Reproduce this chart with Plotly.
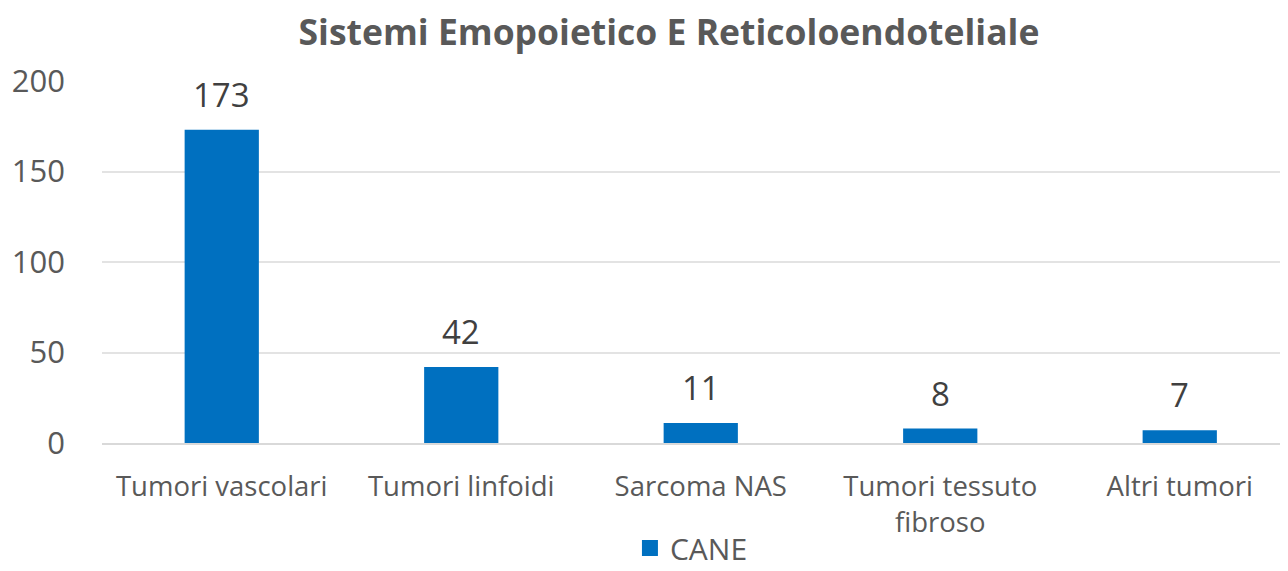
import plotly.graph_objects as go

categories = ["Tumori vascolari", "Tumori linfoidi", "Sarcoma NAS",
              "Tumori tessuto<br>fibroso", "Altri tumori"]
cane = [173, 42, 11, 8, 7]
y_ticks = [0, 50, 100, 150, 200]

font_family = "Open Sans, Noto Sans, sans-serif"
bar_color = "#0070C0"

fig = go.Figure()

fig.add_trace(go.Bar(
    x=categories, y=cane,
    name="CANE",
    marker=dict(color=bar_color, line=dict(width=0)),
    width=0.31,
    showlegend=False,
))

# legend entry only, with a bigger square swatch
fig.add_trace(go.Scatter(
    x=[None], y=[None],
    mode="markers", name="CANE",
    marker=dict(symbol="square", size=16, color=bar_color),
))

# value labels above bars
for cat, val in zip(categories, cane):
    fig.add_annotation(
        x=cat, y=val, text=str(val),
        showarrow=False, yanchor="bottom", yshift=11,
        font=dict(size=33, color="#404040", family=font_family),
    )

# the page body adds 8px offset, so the figure is 8px smaller
fig.update_layout(
    width=1280, height=563,
    margin=dict(l=94, r=0, t=73, b=128, autoexpand=False),
    paper_bgcolor="white", plot_bgcolor="white",
    title=dict(
        text="<b>Sistemi Emopoietico E Reticoloendoteliale</b>",
        x=661 / 1280, xanchor="center",
        y=1 - 25 / 563, yanchor="middle",
        font=dict(size=35.5, color="#595959", family=font_family),
    ),
    showlegend=True,
    legend=dict(
        orientation="h", x=0.497, xanchor="center",
        y=-0.29, yanchor="middle",
        font=dict(size=30, color="#595959", family=font_family),
        itemwidth=30, itemsizing="trace",
        borderwidth=0,
    ),
    font=dict(family=font_family, color="#595959"),
)

fig.update_xaxes(
    range=[-0.5, 4.452],
    showgrid=False,
    showline=True, linecolor="#d9d9d9", linewidth=2,
    ticks="", ticklabelstandoff=18,
    tickfont=dict(size=27.5, color="#595959", family=font_family),
)

fig.update_yaxes(
    range=[0, 200],
    tickvals=y_ticks,
    showgrid=True, gridcolor="#e3e3e3", gridwidth=1.5,
    zeroline=False, showline=False,
    ticks="", ticklabelstandoff=36,
    tickfont=dict(size=31, color="#595959", family=font_family),
)

fig.write_html("out.html")
